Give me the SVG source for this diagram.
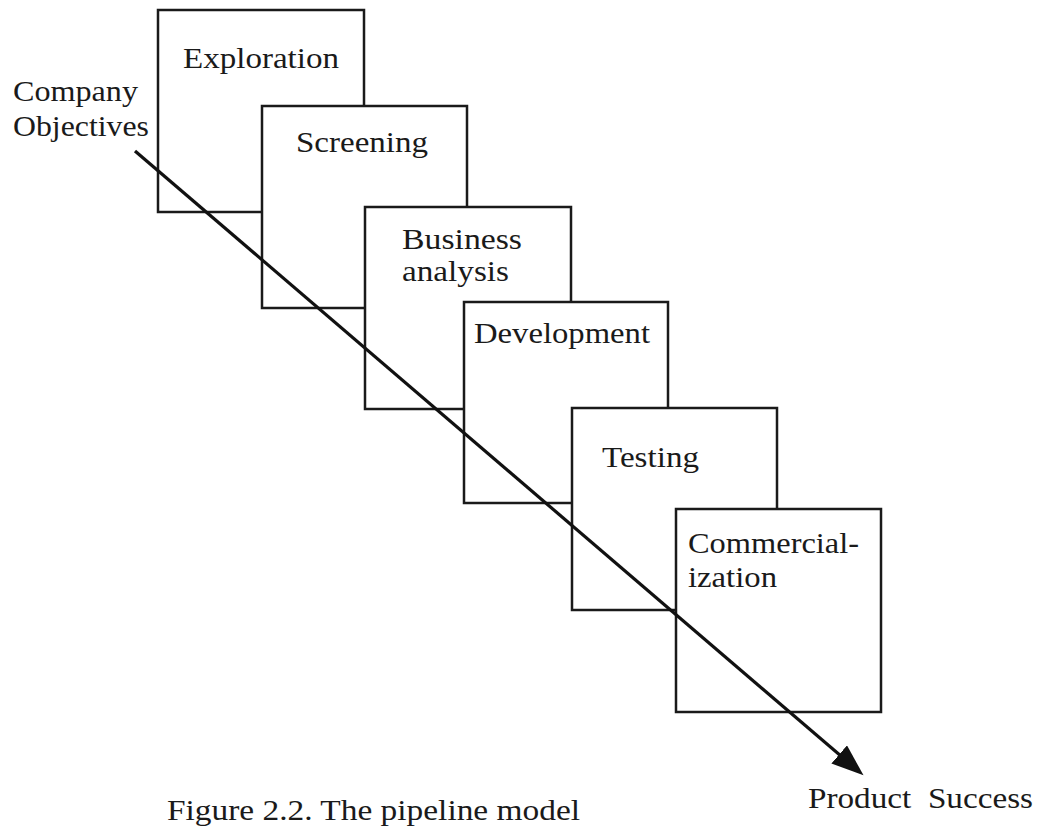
<svg xmlns="http://www.w3.org/2000/svg" width="1041" height="830" viewBox="0 0 1041 830">
  <style>
    .box { fill: #ffffff; stroke: #1a1a1a; stroke-width: 2.5; }
    .lbl { font-family: "Liberation Serif", "Times New Roman", serif; font-size: 30px; fill: #1a1a1a; }
    .conn { stroke: #111111; stroke-width: 3.2; fill: none; }
  </style>
  <defs>
    <marker id="head" markerUnits="userSpaceOnUse" markerWidth="34" markerHeight="26" refX="22" refY="12" orient="auto">
      <path d="M0,0 L32,12 L0,24 z" fill="#111111"/>
    </marker>
  </defs>
  <rect width="1041" height="830" fill="#ffffff"/>

  <text class="lbl" x="13" y="101" textLength="125" lengthAdjust="spacingAndGlyphs">Company</text>
  <text class="lbl" x="13" y="136" textLength="136" lengthAdjust="spacingAndGlyphs">Objectives</text>

  <g id="exploration">
    <rect class="box" x="158" y="10" width="206" height="202"/>
    <text class="lbl" x="183" y="68" textLength="156" lengthAdjust="spacingAndGlyphs">Exploration</text>
  </g>
  <g id="screening">
    <rect class="box" x="262" y="106" width="205" height="202"/>
    <text class="lbl" x="296" y="152" textLength="132" lengthAdjust="spacingAndGlyphs">Screening</text>
  </g>
  <g id="business">
    <rect class="box" x="365" y="207" width="206" height="202"/>
    <text class="lbl" x="402" y="249" textLength="120" lengthAdjust="spacingAndGlyphs">Business</text>
    <text class="lbl" x="402" y="281" textLength="107" lengthAdjust="spacingAndGlyphs">analysis</text>
  </g>
  <g id="development">
    <rect class="box" x="464" y="302" width="204" height="201"/>
    <text class="lbl" x="474" y="343" textLength="176" lengthAdjust="spacingAndGlyphs">Development</text>
  </g>
  <g id="testing">
    <rect class="box" x="572" y="408" width="205" height="202"/>
    <text class="lbl" x="602" y="467" textLength="97" lengthAdjust="spacingAndGlyphs">Testing</text>
  </g>
  <g id="commercialization">
    <rect class="box" x="676" y="509" width="205" height="203"/>
    <text class="lbl" x="688" y="553" textLength="171" lengthAdjust="spacingAndGlyphs">Commercial-</text>
    <text class="lbl" x="688" y="587" textLength="89" lengthAdjust="spacingAndGlyphs">ization</text>
  </g>

  <g id="connectors">
    <path class="conn" d="M135,151 L855.9,768.8" marker-end="url(#head)"/>
  </g>

  <text class="lbl" x="808" y="808" textLength="225" lengthAdjust="spacingAndGlyphs" style="white-space:pre">Product  Success</text>
  <text class="lbl" x="167" y="820" textLength="413" lengthAdjust="spacingAndGlyphs">Figure 2.2. The pipeline model</text>
</svg>
